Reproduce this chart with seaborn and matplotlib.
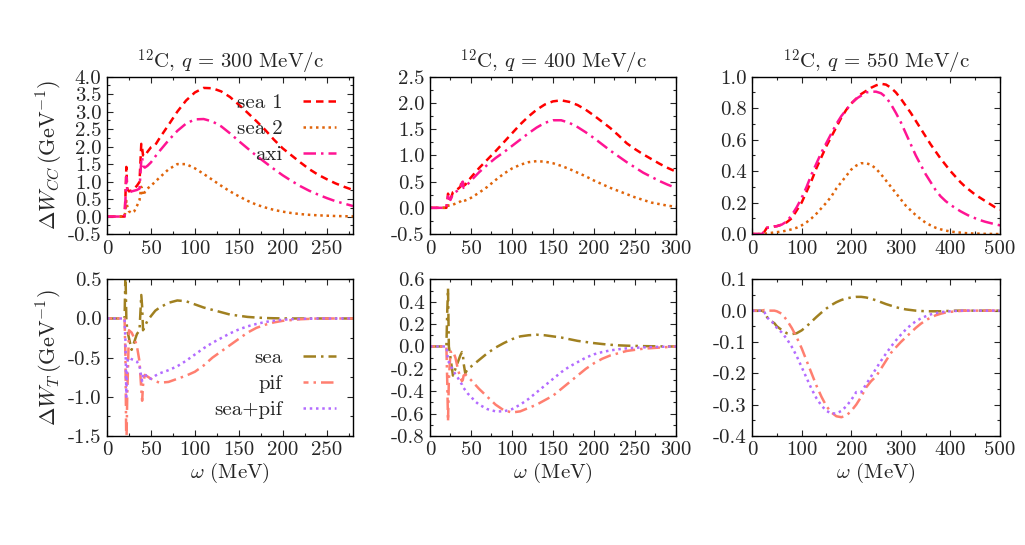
import matplotlib
matplotlib.use("Agg")
import matplotlib.pyplot as plt
import seaborn as sns
from matplotlib.ticker import MultipleLocator, AutoMinorLocator, FormatStrFormatter

# omega grids (MeV)
w300 = [0, 20, 21, 22, 23, 25, 28, 31, 34, 37, 39, 40, 41, 43, 46, 50, 55, 60, 70, 80,
        90, 100, 110, 120, 130, 140, 150, 160, 170, 180, 190, 200, 210, 220, 230, 240,
        250, 260, 270, 280]
w400 = [0, 20, 21, 22, 23, 25, 28, 31, 34, 37, 39, 40, 41, 43, 46, 50, 55, 60, 70, 80,
        90, 100, 110, 120, 130, 140, 150, 160, 170, 180, 190, 200, 210, 220, 230, 240,
        250, 260, 270, 280, 290, 300]
w550 = [0, 10, 20, 25, 30, 35, 40, 45, 50, 60, 70, 80, 90, 100, 110, 120, 130, 140, 150,
        160, 170, 180, 190, 200, 210, 220, 230, 240, 250, 260, 270, 280, 290, 300, 310,
        320, 330, 340, 350, 360, 370, 380, 390, 400, 410, 420, 430, 440, 450, 460, 470,
        480, 490, 500]

# Delta W_CC, q = 300
sea1_300 = [0, 0, 0.6, 1.42, 0.8, 0.72, 0.75, 0.8, 0.88, 0.99, 2.08, 1.95, 1.75, 1.72, 1.85,
            1.98, 2.05, 2.25, 2.62, 3.0, 3.32, 3.55, 3.68, 3.67, 3.58, 3.42, 3.2, 2.97, 2.73,
            2.48, 2.2, 1.95, 1.75, 1.55, 1.36, 1.2, 1.07, 0.95, 0.85, 0.76]
sea2_300 = [0, 0, 0.2, 0.45, 0.3, 0.15, 0.1, 0.15, 0.3, 0.47, 0.85, 0.7, 0.6, 0.7, 0.8,
            0.88, 1.0, 1.12, 1.35, 1.5, 1.5, 1.38, 1.22, 1.05, 0.88, 0.72, 0.58, 0.45, 0.34,
            0.26, 0.19, 0.14, 0.1, 0.07, 0.05, 0.035, 0.025, 0.015, 0.01, 0.005]
axi_300 = [0, 0, 0.5, 1.13, 0.75, 0.68, 0.72, 0.74, 0.76, 0.8, 1.6, 1.7, 1.45, 1.4, 1.45,
           1.55, 1.72, 1.88, 2.18, 2.45, 2.66, 2.78, 2.79, 2.72, 2.58, 2.38, 2.16, 1.95, 1.74,
           1.55, 1.36, 1.18, 1.02, 0.87, 0.74, 0.63, 0.53, 0.44, 0.37, 0.3]

# Delta W_CC, q = 400
sea1_400 = [0, 0, 0.1, 0.27, 0.2, 0.16, 0.3, 0.33, 0.36, 0.4, 0.52, 0.5, 0.42, 0.44, 0.5,
            0.58, 0.67, 0.76, 0.92, 1.08, 1.25, 1.42, 1.59, 1.74, 1.87, 1.97, 2.03, 2.05, 2.02,
            1.96, 1.87, 1.76, 1.64, 1.52, 1.38, 1.23, 1.12, 1.02, 0.93, 0.84, 0.76, 0.69]
sea2_400 = [0, 0, 0.02, 0.05, 0.04, 0.04, 0.06, 0.08, 0.1, 0.12, 0.15, 0.14, 0.13, 0.14, 0.16,
            0.19, 0.24, 0.29, 0.4, 0.53, 0.65, 0.75, 0.82, 0.87, 0.89, 0.88, 0.85, 0.8, 0.74,
            0.67, 0.6, 0.52, 0.45, 0.38, 0.32, 0.26, 0.2, 0.15, 0.1, 0.07, 0.04, 0.02]
axi_400 = [0, 0, 0.12, 0.22, 0.18, 0.15, 0.27, 0.3, 0.33, 0.37, 0.48, 0.5, 0.38, 0.4, 0.45,
           0.52, 0.6, 0.68, 0.82, 0.95, 1.06, 1.18, 1.3, 1.42, 1.53, 1.62, 1.67, 1.67, 1.62,
           1.54, 1.44, 1.33, 1.21, 1.09, 0.98, 0.87, 0.77, 0.67, 0.59, 0.51, 0.44, 0.38]

# Delta W_CC, q = 550
sea1_550 = [0, 0, 0, 0.015, 0.04, 0.04, 0.045, 0.048, 0.05, 0.06, 0.075, 0.1, 0.15, 0.2, 0.27,
            0.34, 0.42, 0.49, 0.56, 0.62, 0.68, 0.74, 0.79, 0.83, 0.86, 0.89, 0.91, 0.93, 0.945,
            0.955, 0.95, 0.93, 0.9, 0.86, 0.815, 0.77, 0.72, 0.67, 0.62, 0.57, 0.525, 0.48,
            0.44, 0.4, 0.365, 0.33, 0.3, 0.275, 0.25, 0.23, 0.21, 0.19, 0.17, 0.155]
sea2_550 = [0, 0, 0, 0.002, 0.004, 0.006, 0.008, 0.01, 0.012, 0.016, 0.022, 0.03, 0.04, 0.055,
            0.075, 0.1, 0.13, 0.165, 0.2, 0.24, 0.29, 0.33, 0.37, 0.41, 0.435, 0.45, 0.45, 0.44,
            0.415, 0.38, 0.34, 0.3, 0.26, 0.22, 0.18, 0.15, 0.12, 0.095, 0.072, 0.055, 0.04,
            0.03, 0.022, 0.016, 0.012, 0.009, 0.006, 0.004, 0.003, 0.002, 0.001, 0.001, 0, 0]
axi_550 = [0, 0, 0, 0.02, 0.04, 0.04, 0.045, 0.048, 0.05, 0.06, 0.08, 0.12, 0.17, 0.23, 0.3,
           0.38, 0.45, 0.52, 0.58, 0.64, 0.7, 0.75, 0.79, 0.83, 0.86, 0.88, 0.9, 0.905, 0.905,
           0.895, 0.87, 0.825, 0.77, 0.71, 0.64, 0.57, 0.5, 0.44, 0.38, 0.33, 0.28, 0.24, 0.21,
           0.185, 0.165, 0.145, 0.128, 0.112, 0.1, 0.088, 0.078, 0.07, 0.062, 0.055]

# Delta W_T, q = 300
sea_t300 = [0, 0, 0.6, 0.0, -0.15, -0.25, -0.4, -0.3, -0.2, -0.15, 0.3, 0.15, -0.15, -0.1,
            -0.03, 0.03, 0.1, 0.14, 0.2, 0.23, 0.22, 0.18, 0.14, 0.11, 0.08, 0.05, 0.035, 0.02,
            0.012, 0.006, 0.003, 0.001, 0, 0, 0, 0, 0, 0, 0, 0]
pif_t300 = [0, 0, -0.5, -1.7, -1.0, -0.15, -0.18, -0.25, -0.35, -0.55, -0.9, -1.05, -0.85,
            -0.72, -0.74, -0.77, -0.8, -0.82, -0.81, -0.77, -0.73, -0.68, -0.6, -0.5, -0.42,
            -0.34, -0.26, -0.18, -0.12, -0.08, -0.05, -0.03, -0.02, -0.01, -0.005, 0, 0, 0, 0, 0]
sum_t300 = [0, 0, -0.3, -1.0, -0.55, -0.5, -0.52, -0.53, -0.55, -0.6, -0.75, -0.8, -0.72,
            -0.7, -0.76, -0.77, -0.73, -0.7, -0.66, -0.61, -0.54, -0.46, -0.38, -0.31, -0.25,
            -0.19, -0.14, -0.1, -0.07, -0.045, -0.028, -0.016, -0.009, -0.005, -0.002, 0, 0, 0,
            0, 0]

# Delta W_T, q = 400
sea_t400 = [0, 0, 0.3, 0.52, 0.0, -0.1, -0.26, -0.2, -0.14, -0.08, -0.05, -0.06, -0.15, -0.24,
            -0.2, -0.18, -0.15, -0.12, -0.06, -0.01, 0.03, 0.065, 0.09, 0.1, 0.105, 0.1, 0.09,
            0.08, 0.065, 0.05, 0.04, 0.03, 0.022, 0.015, 0.01, 0.007, 0.005, 0.003, 0.002,
            0.001, 0, 0]
pif_t400 = [0, 0, -0.3, -0.67, -0.3, -0.05, -0.04, -0.1, -0.2, -0.28, -0.31, -0.3, -0.26,
            -0.25, -0.27, -0.3, -0.34, -0.38, -0.45, -0.52, -0.57, -0.59, -0.58, -0.55, -0.52,
            -0.48, -0.44, -0.38, -0.32, -0.26, -0.2, -0.15, -0.11, -0.08, -0.06, -0.04, -0.03,
            -0.02, -0.015, -0.01, -0.005, 0]
sum_t400 = [0, 0, -0.05, -0.13, -0.14, -0.17, -0.21, -0.25, -0.28, -0.32, -0.34, -0.36, -0.37,
            -0.39, -0.42, -0.45, -0.49, -0.52, -0.56, -0.58, -0.58, -0.56, -0.52, -0.47, -0.41,
            -0.35, -0.29, -0.23, -0.18, -0.14, -0.1, -0.07, -0.05, -0.035, -0.025, -0.017,
            -0.012, -0.008, -0.005, -0.003, -0.001, 0]

# Delta W_T, q = 550
sea_t550 = [0, 0, 0, -0.005, -0.02, -0.03, -0.035, -0.04, -0.05, -0.062, -0.072, -0.075,
            -0.072, -0.063, -0.05, -0.035, -0.02, -0.006, 0.007, 0.018, 0.027, 0.034, 0.039,
            0.042, 0.044, 0.044, 0.042, 0.038, 0.033, 0.027, 0.021, 0.016, 0.011, 0.007, 0.004,
            0.002, 0, -0.001, -0.002, -0.002, -0.002, -0.002, -0.001, -0.001, 0, 0, 0, 0, 0, 0,
            0, 0, 0, 0]
pif_t550 = [0, 0, 0, 0.002, 0, 0, 0, 0, -0.002, -0.01, -0.03, -0.055, -0.085, -0.12, -0.16,
            -0.2, -0.24, -0.275, -0.305, -0.325, -0.337, -0.34, -0.335, -0.32, -0.3, -0.275,
            -0.245, -0.225, -0.21, -0.185, -0.16, -0.135, -0.117, -0.1, -0.085, -0.07, -0.055,
            -0.042, -0.031, -0.022, -0.015, -0.01, -0.006, -0.004, -0.002, -0.001, 0, 0, 0, 0,
            0, 0, 0, 0]
sum_t550 = [0, 0, 0, -0.005, -0.02, -0.03, -0.035, -0.045, -0.055, -0.07, -0.09, -0.115,
            -0.145, -0.18, -0.215, -0.25, -0.28, -0.303, -0.32, -0.328, -0.328, -0.32, -0.305,
            -0.285, -0.26, -0.26, -0.235, -0.21, -0.185, -0.16, -0.137, -0.115, -0.095, -0.077,
            -0.06, -0.046, -0.034, -0.025, -0.018, -0.012, -0.008, -0.005, -0.003, -0.002,
            -0.001, 0, 0, 0, 0, 0, 0, 0, 0, 0]

titles = [r"$^{12}$C, $q\,=\,300$ MeV/c", r"$^{12}$C, $q\,=\,400$ MeV/c",
          r"$^{12}$C, $q\,=\,550$ MeV/c"]

sns.set_style("ticks")
plt.rcParams["font.family"] = ["cmr10", "DejaVu Serif"]
plt.rcParams["mathtext.fontset"] = "cm"
plt.rcParams["axes.unicode_minus"] = False
plt.rcParams["axes.formatter.use_mathtext"] = True

fs = 15
# styles: label, colour, linestyle
top_styles = [("sea 1", "#FF0000", (0, (3, 2))),
              ("sea 2", "#E0640A", (0, (1, 1.5))),
              ("axi", "#FF1493", (0, (5, 2, 1, 2)))]
bot_styles = [("sea", "#A08020", (0, (5, 2, 1, 2))),
              ("pif", "#FF7F70", (3, (5, 2, 1, 2))),
              ("sea+pif", "#B36BFF", (0, (1, 1.5)))]

fig = plt.figure(figsize=(10.25, 5.45), dpi=100)
lefts = [0.1044, 0.4195, 0.7337]
widths = [0.240, 0.240, 0.242]

top_data = [(w300, [sea1_300, sea2_300, axi_300]),
            (w400, [sea1_400, sea2_400, axi_400]),
            (w550, [sea1_550, sea2_550, axi_550])]
bot_data = [(w300, [sea_t300, pif_t300, sum_t300]),
            (w400, [sea_t400, pif_t400, sum_t400]),
            (w550, [sea_t550, pif_t550, sum_t550])]

xlims = [(0, 280), (0, 300), (0, 500)]
xmaj = [50, 50, 100]
top_ylims = [(-0.5, 4.0), (-0.5, 2.5), (0, 1.0)]
top_ymaj = [0.5, 0.5, 0.2]
bot_ylims = [(-1.5, 0.5), (-0.8, 0.6), (-0.4, 0.1)]
bot_ymaj = [0.5, 0.2, 0.1]

leg_kw = dict(frameon=False, markerfirst=False, fontsize=fs, handlelength=1.6,
              handletextpad=1.0, labelspacing=0.36, borderaxespad=0.5, borderpad=0.3)


def style_axes(ax, xl, xm, yl, ym):
    ax.set_xlim(*xl)
    ax.set_ylim(*yl)
    ax.xaxis.set_major_locator(MultipleLocator(xm))
    ax.yaxis.set_major_locator(MultipleLocator(ym))
    ax.xaxis.set_minor_locator(AutoMinorLocator(2))
    ax.yaxis.set_minor_locator(AutoMinorLocator(2))
    ax.xaxis.set_major_formatter(FormatStrFormatter("%d"))
    ax.yaxis.set_major_formatter(FormatStrFormatter("%.1f"))
    ax.tick_params(which="both", direction="in", top=True, right=True,
                   labelsize=fs, width=0.8, pad=4)
    ax.tick_params(which="major", length=4.5)
    ax.tick_params(which="minor", length=2.5)
    for s in ax.spines.values():
        s.set_linewidth(1.0)
        s.set_color("black")
    ax.set_xlabel("")
    ax.set_ylabel("")


for i in range(3):
    ax = fig.add_axes([lefts[i], 0.5706, widths[i], 0.2886])
    w, curves = top_data[i]
    for (lab, col, ls), y in zip(top_styles, curves):
        sns.lineplot(x=w, y=y, ax=ax, color=col, linestyle=ls, linewidth=1.8,
                     label=lab if i == 0 else None)
    style_axes(ax, xlims[i], xmaj[i], top_ylims[i], top_ymaj[i])
    ax.set_title(titles[i], fontsize=fs, pad=5)
    if i == 0:
        ax.set_ylabel(r"$\Delta W_{CC}\,(\mathrm{GeV}^{-1})$", fontsize=fs + 1, labelpad=2)
        ax.legend(loc="upper right", **leg_kw)

for i in range(3):
    ax = fig.add_axes([lefts[i], 0.2, widths[i], 0.2875])
    w, curves = bot_data[i]
    for (lab, col, ls), y in zip(bot_styles, curves):
        sns.lineplot(x=w, y=y, ax=ax, color=col, linestyle=ls, linewidth=1.8,
                     label=lab if i == 0 else None)
    style_axes(ax, xlims[i], xmaj[i], bot_ylims[i], bot_ymaj[i])
    ax.set_xlabel(r"$\omega$ (MeV)", fontsize=fs, labelpad=1)
    if i == 0:
        ax.set_ylabel(r"$\Delta W_{T}\,(\mathrm{GeV}^{-1})$", fontsize=fs + 1, labelpad=2)
        ax.legend(loc="lower right", **leg_kw)

fig.savefig("out.png", dpi=100)
